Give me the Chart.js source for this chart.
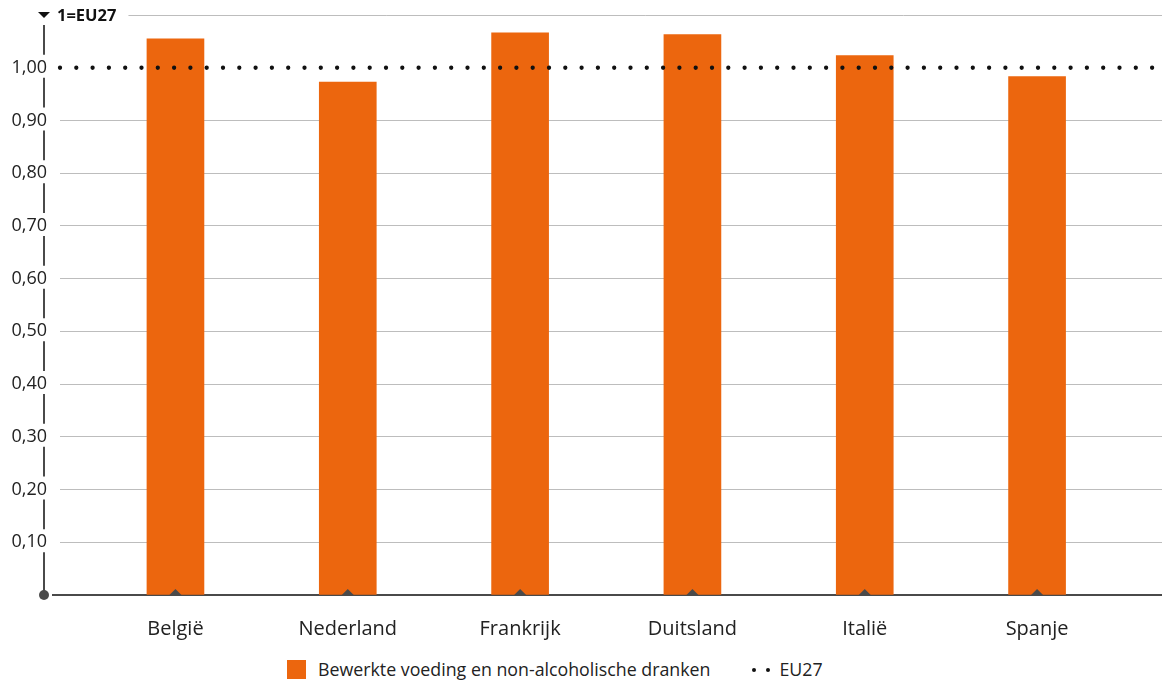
<!DOCTYPE html>
<html>
<head>
<meta charset="utf-8">
<script src="https://cdn.jsdelivr.net/npm/chart.js@4.4.1/dist/chart.umd.min.js"></script>
<style>
  body { margin:0; background:#fff; font-family: "Open Sans", sans-serif; color:#222; }
  #wrap { position:relative; width:1162px; height:681px; }
  #legend { position:absolute; left:287px; top:659px; font-size:17.8px; line-height:21px; display:flex; align-items:center; }
  #legend .box { width:19px; height:19px; background:#ec660e; margin-right:12px; }
  #legend .dots { margin-left:42px; margin-right:9px; display:flex; gap:10px; }
  #legend .dots span { width:4px; height:4px; border-radius:50%; background:#111; }
</style>
</head>
<body>
<div id="wrap">
  <canvas id="chart" width="1162" height="655"></canvas>
  <div id="legend">
    <div class="box"></div><span>Bewerkte voeding en non-alcoholische dranken</span>
    <div class="dots"><span></span><span></span></div><span>EU27</span>
  </div>
</div>
<script>
// landen en index (EU27 = 1)
const landen = ['België', 'Nederland', 'Frankrijk', 'Duitsland', 'Italië', 'Spanje'];
const waarden = [1.055, 0.973, 1.066, 1.063, 1.023, 0.983];
const eu27 = 1.00;
const yTicks = [0, 0.1, 0.2, 0.3, 0.4, 0.5, 0.6, 0.7, 0.8, 0.9, 1.0, 1.1];
const asTitel = '1=EU27';
// x-as loopt iets voor eerste en na laatste land door
const xMin = -0.67, xMax = 5.725;

const oranje = '#ec660e';
const donker = '#4a4a4a';

// tekent de onderbroken y-as, bolletje onderaan en de titel bovenaan
const asPlugin = {
    id: 'asPlugin',
    afterDraw(chart){
        const ctx = chart.ctx;
        const y = chart.scales.y;
        const area = chart.chartArea;
        const ax = 44;
        ctx.save();
        ctx.strokeStyle = donker;
        ctx.lineWidth = 2;
        // segmenten tussen de labels
        for(let i = 0; i < yTicks.length - 1; i++){
            const lo = y.getPixelForValue(yTicks[i]);
            const hi = y.getPixelForValue(yTicks[i+1]);
            ctx.beginPath();
            ctx.moveTo(ax, hi + 10);
            ctx.lineTo(ax, i == 0 ? lo : lo - 13);
            ctx.stroke();
        }
        // basislijn doortrekken
        const y0 = y.getPixelForValue(0);
        ctx.beginPath();
        ctx.moveTo(52, y0);
        ctx.lineTo(area.left, y0);
        ctx.stroke();
        // bolletje
        ctx.fillStyle = donker;
        ctx.beginPath();
        ctx.arc(ax, y0, 5, 0, Math.PI*2);
        ctx.fill();
        // titel met driehoekje
        const yt = y.getPixelForValue(yTicks[yTicks.length-1]);
        ctx.fillStyle = '#111';
        ctx.beginPath();
        ctx.moveTo(38, yt - 3);
        ctx.lineTo(50, yt - 3);
        ctx.lineTo(44, yt + 3);
        ctx.closePath();
        ctx.fill();
        ctx.font = 'bold 16.5px "Open Sans"';
        ctx.textBaseline = 'middle';
        ctx.fillText(asTitel, 57, yt + 1);
        const w = ctx.measureText(asTitel).width;
        ctx.strokeStyle = '#bdbdbd';
        ctx.lineWidth = 1;
        ctx.beginPath();
        ctx.moveTo(57 + w + 12, Math.round(yt) + 0.5);
        ctx.lineTo(area.right, Math.round(yt) + 0.5);
        ctx.stroke();
        ctx.restore();
    }
};

document.addEventListener('DOMContentLoaded', function() {
    const ctx = document.getElementById('chart').getContext('2d');
    new Chart(ctx, {
        type: 'bar',
        data: {
            datasets: [
                {
                    type: 'line',
                    label: 'EU27',
                    data: [{x: xMin, y: eu27}, {x: xMax, y: eu27}],
                    borderColor: '#111',
                    borderWidth: 4.3,
                    borderDash: [0, 16.3],
                    borderCapStyle: 'round',
                    pointRadius: 0,
                    clip: false,
                    order: 1
                },
                {
                    type: 'line',
                    label: 'markers',
                    data: landen.map((l, i) => ({x: i, y: 0})),
                    showLine: false,
                    pointStyle: 'rectRot',
                    pointRadius: 6,
                    pointBackgroundColor: donker,
                    pointBorderWidth: 0,
                    order: 2
                },
                {
                    label: 'Bewerkte voeding en non-alcoholische dranken',
                    data: waarden.map((v, i) => ({x: i, y: v})),
                    backgroundColor: oranje,
                    barThickness: 57,
                    order: 3
                }
            ]
        },
        options: {
            responsive: false,
            animation: false,
            layout: { autoPadding: false, padding: { top: 15, right: 0, left: 0, bottom: 0 } },
            plugins: { legend: { display: false }, tooltip: { enabled: false } },
            scales: {
                x: {
                    type: 'linear',
                    min: xMin,
                    max: xMax,
                    offset: false,
                    afterBuildTicks: s => { s.ticks = landen.map((l, i) => ({value: i})); },
                    afterFit: s => { s.height = 60; s.paddingLeft = 0; s.paddingRight = 0; },
                    grid: { display: false, drawTicks: false, offset: false },
                    border: { display: true, color: donker, width: 2 },
                    ticks: {
                        padding: 22,
                        color: '#222',
                        font: { family: 'Open Sans', size: 20 },
                        autoSkip: false,
                        maxRotation: 0,
                        callback: v => landen[v]
                    }
                },
                y: {
                    min: 0,
                    max: 1.1,
                    afterBuildTicks: s => { s.ticks = yTicks.map(v => ({value: v})); },
                    afterFit: s => { s.width = 60; s.paddingTop = 0; s.paddingBottom = 0; },
                    grid: {
                        drawTicks: false,
                        lineWidth: 1,
                        color: c => (c.tick && (c.tick.value < 0.05 || c.tick.value > 0.95)) ? 'rgba(0,0,0,0)' : '#bdbdbd'
                    },
                    border: { display: false },
                    ticks: {
                        padding: 13,
                        color: '#222',
                        font: { family: 'Open Sans', size: 18 },
                        callback: v => (v < 0.05 || v > 1.05) ? '' : v.toFixed(2).replace('.', ',')
                    }
                }
            }
        },
        plugins: [asPlugin]
    });
});
</script>
</body>
</html>
